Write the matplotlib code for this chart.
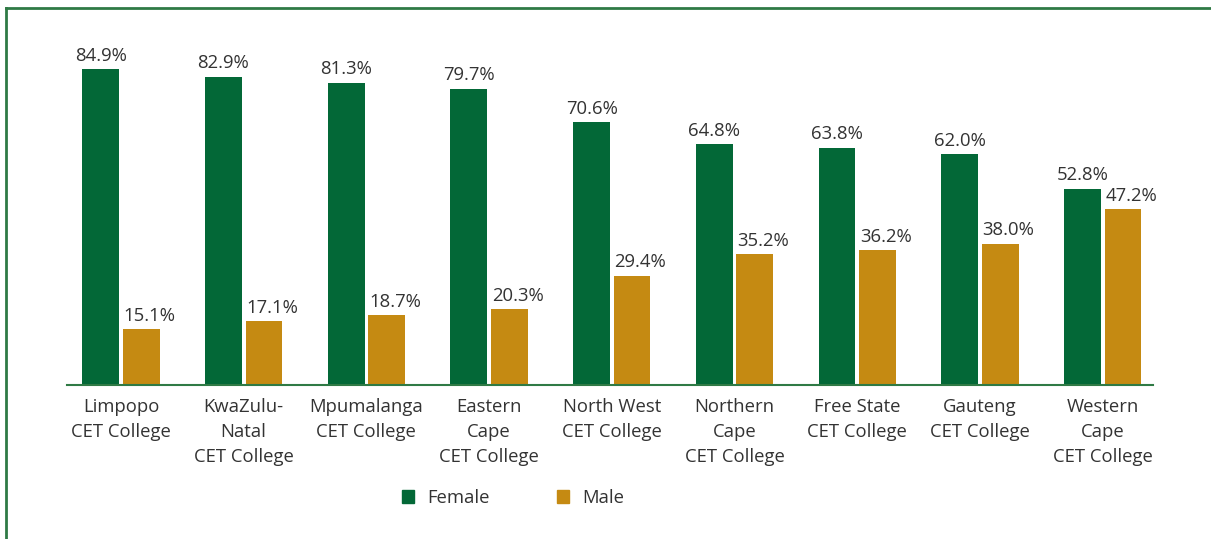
import matplotlib.pyplot as plt
import numpy as np
from matplotlib.patches import Patch
from matplotlib.lines import Line2D

colleges = ['Limpopo\nCET College', 'KwaZulu-\nNatal\nCET College', 'Mpumalanga\nCET College',
            'Eastern\nCape\nCET College', 'North West\nCET College', 'Northern\nCape\nCET College',
            'Free State\nCET College', 'Gauteng\nCET College', 'Western\nCape\nCET College']
female = [84.9, 82.9, 81.3, 79.7, 70.6, 64.8, 63.8, 62.0, 52.8]
male = [15.1, 17.1, 18.7, 20.3, 29.4, 35.2, 36.2, 38.0, 47.2]

GREEN = '#036837'
GOLD = '#C58A12'
LINE = '#2F7A45'
TEXT = '#333333'
FS = 13.3

plt.rcParams['font.family'] = ['Open Sans', 'DejaVu Sans']

fig = plt.figure(figsize=(12.11, 5.39), dpi=100)
ax = fig.add_axes([0.0553, 0.2857, 0.8968, 0.6902])

x = np.arange(len(colleges))
w = 0.30
off = 0.165
b1 = ax.bar(x - off, female, w, color=GREEN, label='Female')
b2 = ax.bar(x + off, male, w, color=GOLD, label='Male')

# female labels centred, male labels nudged right like the original
for bars, dx in ((b1, 0), (b2, 6)):
    for b in bars:
        ax.annotate(f'{b.get_height():.1f}%', (b.get_x() + b.get_width() / 2, b.get_height()),
                    xytext=(dx, 3), textcoords='offset points', ha='center', va='bottom',
                    fontsize=FS, color=TEXT)

ax.set_xlim(-0.44, 8.41)
ax.set_ylim(0, 100)
ax.set_xticks(x)
ax.set_xticklabels(colleges, fontsize=FS, color=TEXT, linespacing=1.5)
ax.tick_params(axis='x', length=0, pad=9)
ax.set_yticks([])
for s in ['top', 'right', 'left']:
    ax.spines[s].set_visible(False)
ax.spines['bottom'].set_color(LINE)
ax.spines['bottom'].set_linewidth(1.5)

# outer frame (top and left edges)
fig.add_artist(Line2D([6 / 1211, 1], [1 - 8 / 539, 1 - 8 / 539], color=LINE, lw=2, transform=fig.transFigure))
fig.add_artist(Line2D([6 / 1211, 6 / 1211], [0, 1 - 8 / 539], color=LINE, lw=2, transform=fig.transFigure))

handles = [Patch(color=GREEN, label='Female'), Patch(color=GOLD, label='Male')]
fig.legend(handles=handles, loc='center', bbox_to_anchor=(513 / 1211, 1 - 498 / 539), ncol=2,
           frameon=False, fontsize=FS, handlelength=0.65, handleheight=0.65,
           handletextpad=0.75, columnspacing=3.6, labelcolor=TEXT)

fig.savefig('out.png', dpi=100)
